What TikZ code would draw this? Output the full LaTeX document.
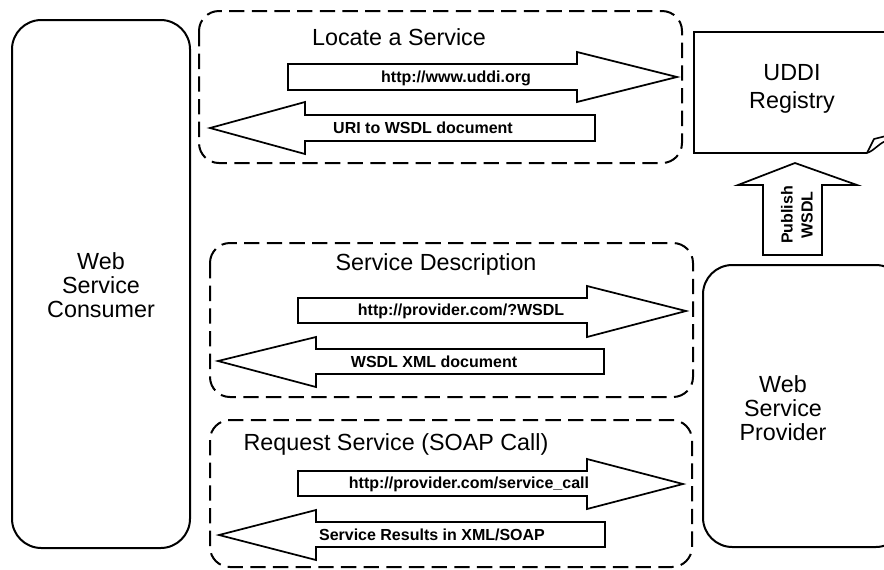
\documentclass[tikz,border=0pt]{standalone}
\usepackage{fontspec}
\setmainfont{Liberation Sans}
\usetikzlibrary{positioning}

\tikzset{
  actorbox/.style={line width=1.5pt, rounded corners=22pt},
  groupbox/.style={line width=1.5pt, dash pattern=on 11.5pt off 5.5pt, rounded corners=15pt},
  blockarrow/.style={line width=1.3pt, fill=white, line join=miter},
  bigtext/.style={font=\fontsize{17.5}{18}\selectfont, align=center, inner sep=0pt},
  arrowtext/.style={font=\fontsize{12}{14}\selectfont\bfseries, inner sep=0pt},
}

\begin{document}
\begin{tikzpicture}[x=0.75pt, y=-0.75pt]

    \useasboundingbox (0,0) rectangle (884,569);

    \coordinate (CU) at (12, 20);
    \coordinate (CD) at (190, 548);

    \coordinate (PU) at (703, 265);
    \coordinate (PD) at (905, 547);

    \coordinate (LU) at (199, 11);
    \coordinate (LD) at (682, 163);

    \coordinate (DU) at (210, 243);
    \coordinate (DD) at (693, 397);

    \coordinate (RU) at (210, 420);
    \coordinate (RD) at (692, 567);

    \draw[actorbox] (CU) rectangle (CD);
    \draw[actorbox] (PU) rectangle (PD);

    \draw[groupbox] (LU) rectangle (LD);
    \draw[groupbox] (DU) rectangle (DD);
    \draw[groupbox] (RU) rectangle (RD);

    % registry page with curled corner
    \draw[line width=1.5pt] (890, 32) -- (694, 32) -- (694, 153) -- (867, 153);
    \draw[line width=1.2pt, line join=round] (867, 153) -- (874, 139) -- (886, 136);
    \draw[line width=1.2pt] (867, 153) to[out=20, in=200] (886, 141);

    \draw[blockarrow] (288, 64) -- (577, 64) -- (577, 52) -- (677, 77)
      -- (577, 102) -- (577, 90) -- (288, 90) -- cycle;
    \draw[blockarrow] (595, 115) -- (305, 115) -- (305, 102) -- (210, 128)
      -- (305, 154) -- (305, 141) -- (595, 141) -- cycle;

    \draw[blockarrow] (298, 298) -- (587, 298) -- (587, 286) -- (686, 311)
      -- (587, 337) -- (587, 323) -- (298, 323) -- cycle;
    \draw[blockarrow] (604, 349) -- (316, 349) -- (316, 337) -- (218, 361)
      -- (316, 387) -- (316, 374) -- (604, 374) -- cycle;

    \draw[blockarrow] (298, 471) -- (587, 471) -- (587, 459) -- (683, 484)
      -- (587, 509) -- (587, 496) -- (298, 496) -- cycle;
    \draw[blockarrow] (605, 522) -- (316, 522) -- (316, 510) -- (219, 535)
      -- (316, 560) -- (316, 547) -- (605, 547) -- cycle;

    \draw[blockarrow] (763, 255) -- (763, 185) -- (738, 185) -- (795, 163)
      -- (857, 185) -- (822, 185) -- (822, 255) -- cycle;

    \node[bigtext] (consumer) at (101, 285) {Web\\Service\\Consumer};
    \node[bigtext] (provider) at (783, 408) {Web\\Service\\Provider};
    \node[bigtext, font=\fontsize{17.5}{21}\selectfont] (registry) at (792, 89) {UDDI\\Registry};

    \node[bigtext] (locate) at (399, 37) {Locate a Service};
    \node[bigtext] (describe) at (436, 264) {Service Description};
    \node[bigtext] (request) at (396, 444) {Request Service (SOAP Call)};

    \node[arrowtext] (uddiurl) at (456, 78) {http://www.uddi.org};
    \node[arrowtext] (wsdluri) at (423, 128) {URI to WSDL document};
    \node[arrowtext] (wsdlurl) at (461, 311) {http://provider.com/?WSDL};
    \node[arrowtext] (wsdldoc) at (434, 362) {WSDL XML document};
    \node[arrowtext] (callurl) at (469, 484) {http://provider.com/service\_call};
    \node[arrowtext] (results) at (432, 535) {Service Results in XML/SOAP};

    \node[arrowtext, rotate=90, align=center, font=\fontsize{12}{15}\selectfont\bfseries]
      (publish) at (797, 215) {Publish\\WSDL};

  \end{tikzpicture}
\end{document}
